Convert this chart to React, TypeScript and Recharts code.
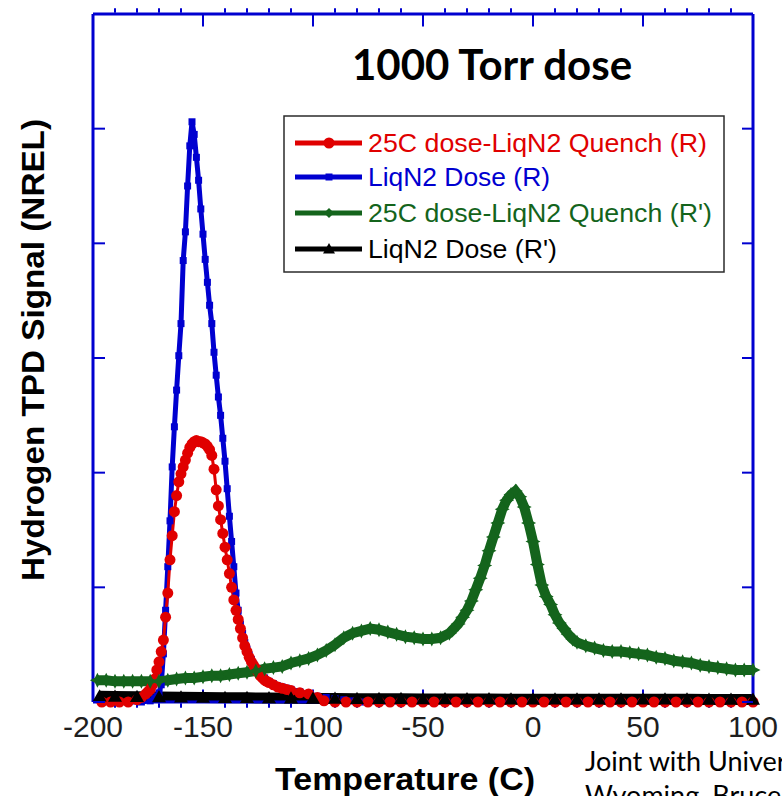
import React from 'react';
import { LineChart, Line, XAxis, YAxis, Legend, ReferenceLine } from 'recharts';

// ---- colours ----
const FRAME = '#0000d0';
const RED = '#e00000';
const BLUE = '#0000d0';
const GREEN = '#14641c';
const BLACK = '#000000';
const SANS = '"Liberation Sans", Arial, Helvetica, sans-serif';

// ---- chart geometry ----
const CHART_W = 782;
const CHART_H = 796;
const MARGIN = { top: 13, right: 28, bottom: 93, left: 92 };
const AXIS_THICKNESS = 1;

// ---- axes ----
const tempTicks = [
  -200, -190, -180, -170, -160, -150, -140, -130, -120, -110, -100, -90, -80, -70, -60, -50,
  -40, -30, -20, -10, 0, 10, 20, 30, 40, 50, 60, 70, 80, 90, 100,
];
const tempLabelTicks = [-200, -150, -100, -50, 0, 50, 100];
const signalTicks = [0, 1, 2, 3, 4, 5, 6];
const SIGNAL_MIN = 0;
const SIGNAL_MAX = 6;

// ---- series names ----
const seriesNames = [
  '25C dose-LiqN2 Quench (R)',
  'LiqN2 Dose (R)',
  "25C dose-LiqN2 Quench (R')",
  "LiqN2 Dose (R')",
];

// ---- 25C dose-LiqN2 Quench (R) ----
const quenchRTemp = [
  -196, -192, -188, -184, -180, -178, -176, -175, -174, -173, -172, -171, -170, -169, -168, -167,
  -166, -165, -164, -163, -162, -161, -160, -159, -158, -157, -156, -155, -154, -153, -152, -151,
  -150, -149, -148, -147, -146, -145, -144, -143, -142, -141, -140, -139, -138, -137, -136, -135,
  -134, -133, -132, -131, -130, -129, -128, -127, -126, -125, -124, -123, -122, -121, -120, -118,
  -116, -114, -112, -110, -106, -102, -98, -95, -90, -85, -80, -75, -70, -65, -60, -55, -50, -45,
  -40, -35, -30, -25, -20, -15, -10, -5, 0, 5, 10, 15, 20, 25, 30, 35, 40, 45, 50, 55, 60, 65, 70,
  75, 80, 85, 90, 95, 100,
];
const quenchRSignal = [
  0, 0, 0, 0, 0.02, 0.04, 0.07, 0.09, 0.11, 0.15, 0.2, 0.28, 0.35, 0.44, 0.54, 0.74,
  0.95, 1.24, 1.45, 1.66, 1.8, 1.92, 1.99, 2.05, 2.11, 2.17, 2.22, 2.25, 2.27, 2.28, 2.27, 2.27,
  2.26, 2.25, 2.23, 2.2, 2.15, 2.03, 1.85, 1.71, 1.59, 1.47, 1.35, 1.24, 1.12, 1.0, 0.89, 0.8,
  0.72, 0.64, 0.56, 0.49, 0.44, 0.39, 0.35, 0.32, 0.29, 0.26, 0.23, 0.21, 0.19, 0.18, 0.17, 0.15,
  0.13, 0.12, 0.11, 0.1, 0.08, 0.07, 0.04, 0.01, 0, 0, 0, 0, 0, 0, 0, 0, 0, 0,
  0, 0, 0, 0, 0, 0, 0, 0, 0, 0, 0, 0, 0, 0, 0, 0, 0, 0, 0, 0, 0, 0, 0,
  0, 0, 0, 0, 0, 0,
];

// ---- LiqN2 Dose (R) ----
const liqRTemp = [
  -196, -190, -184, -178, -174, -172, -171, -170, -169, -168, -167, -166, -165, -164, -163, -162,
  -161, -160, -159, -158, -157, -156, -155, -154, -153, -152, -151, -150, -149, -148, -147, -146,
  -145, -144, -143, -142, -141, -140, -139, -138, -137, -136, -135, -134, -133, -132, -131, -130,
  -129, -128, -127, -126, -125, -124, -122, -120, -118, -116, -114, -112, -110, -106, -102, -98,
  -94, -90, -86, -82, -78, -70, -60, -50, -40, -30, -20, -10, 0, 10, 20, 30, 40, 50, 60, 70, 80,
  90, 100,
];
const liqRSignal = [
  0, 0, 0, 0, 0.01, 0.03, 0.05, 0.08, 0.15, 0.42, 0.8, 1.18, 1.58, 2.05, 2.4, 2.72,
  3.02, 3.3, 3.85, 4.1, 4.5, 4.85, 5.06, 4.95, 4.75, 4.55, 4.3, 4.08, 3.86, 3.66, 3.46, 3.3,
  3.05, 2.85, 2.66, 2.5, 2.3, 2.1, 1.86, 1.62, 1.4, 1.18, 0.95, 0.8, 0.68, 0.6, 0.52, 0.46,
  0.41, 0.37, 0.33, 0.3, 0.27, 0.24, 0.21, 0.18, 0.16, 0.14, 0.13, 0.12, 0.11, 0.09, 0.07, 0.05,
  0.04, 0.03, 0.02, 0.01, 0, 0, 0, 0, 0, 0, 0, 0, 0, 0, 0, 0, 0, 0, 0, 0, 0,
  0, 0,
];

// ---- 25C dose-LiqN2 Quench (R') ----
const quenchPTemp = [
  -198, -194, -190, -186, -182, -178, -174, -170, -166, -162, -158, -154, -150, -146, -142, -138,
  -134, -130, -126, -122, -118, -114, -110, -106, -102, -98, -94, -90, -86, -82, -78, -74, -70,
  -66, -62, -58, -54, -50, -46, -42, -38, -34, -32, -30, -28, -26, -24, -22, -20, -18, -16, -14,
  -12, -10, -8, -6, -4, -2, 0, 2, 4, 6, 8, 10, 12, 14, 16, 18, 20, 24, 28, 32, 36, 40, 44, 48, 52,
  56, 60, 64, 68, 72, 76, 80, 84, 88, 92, 96, 100,
];
const quenchPSignal = [
  0.19, 0.19, 0.18, 0.18, 0.18, 0.18, 0.18, 0.18, 0.19, 0.2, 0.21, 0.21, 0.22, 0.23, 0.23, 0.24,
  0.25, 0.26, 0.27, 0.29, 0.3, 0.31, 0.34, 0.36, 0.38, 0.41, 0.45, 0.5, 0.56, 0.6, 0.62, 0.64, 0.63,
  0.61, 0.59, 0.57, 0.56, 0.55, 0.55, 0.56, 0.6, 0.68, 0.74, 0.8, 0.88, 0.98, 1.08, 1.19, 1.32, 1.44, 1.56, 1.68,
  1.76, 1.81, 1.84, 1.79, 1.7, 1.56, 1.4, 1.2, 1.02, 0.92, 0.85, 0.76, 0.69, 0.64, 0.59, 0.55, 0.52, 0.49, 0.47, 0.45, 0.44, 0.44, 0.43, 0.42, 0.41,
  0.39, 0.38, 0.36, 0.35, 0.34, 0.32, 0.31, 0.3, 0.29, 0.28, 0.28, 0.28,
];

// ---- LiqN2 Dose (R') ----
const liqPTemp = [
  -197, -190, -180, -170, -160, -150, -140, -130, -120, -110, -100, -90, -80, -70, -60, -50,
  -40, -30, -20, -10, 0, 10, 20, 30, 40, 50, 60, 70, 80, 90, 100,
];
const liqPSignal = [
  0.05, 0.048, 0.046, 0.044, 0.042, 0.04, 0.038, 0.036, 0.034, 0.032, 0.031, 0.03, 0.029, 0.028, 0.028, 0.027,
  0.027, 0.026, 0.026, 0.025, 0.025, 0.025, 0.024, 0.024, 0.024, 0.023, 0.023, 0.023, 0.022, 0.022, 0.022,
];

const toRows = (t: number[], v: number[]) => t.map((x, i) => ({ t: x, v: v[i] }));
const quenchR = toRows(quenchRTemp, quenchRSignal);
const liqR = toRows(liqRTemp, liqRSignal);
const quenchP = toRows(quenchPTemp, quenchPSignal);
const liqP = toRows(liqPTemp, liqPSignal);

// ---- markers ----
const circleAt = (cx: number, cy: number, color: string, key?: any) => (
  <circle key={key} cx={cx} cy={cy} r={5.5} fill={color} />
);
const squareAt = (cx: number, cy: number, color: string, key?: any) => (
  <rect key={key} x={cx - 3.5} y={cy - 3.5} width={7} height={7} fill={color} />
);
const starAt = (cx: number, cy: number, color: string, key?: any, s = 7.5) => (
  <polygon
    key={key}
    fill={color}
    points={`${cx},${cy - s} ${cx + 2.5},${cy - 2.5} ${cx + s},${cy} ${cx + 2.5},${cy + 2.5} ${cx},${cy + s} ${cx - 2.5},${cy + 2.5} ${cx - s},${cy} ${cx - 2.5},${cy - 2.5}`}
  />
);
const triangleAt = (cx: number, cy: number, color: string, key?: any, s = 7) => (
  <polygon key={key} fill={color} points={`${cx},${cy - s} ${cx + s},${cy + s * 0.75} ${cx - s},${cy + s * 0.75}`} />
);

const dotOf = (draw: typeof circleAt, color: string) => (p: any) =>
  p.cx == null || p.cy == null ? <g key={p.index} /> : draw(p.cx, p.cy, color, p.index);

// ---- axis ticks ----
const TempLabel = (p: any) => (
  <text x={p.x} y={p.y + 35} textAnchor="middle" fontSize={30} fontFamily={SANS} fill="#1e1e1e">
    {p.payload.value}
  </text>
);
const LeftTick = (p: any) => <line x1={p.x} x2={p.x + 12} y1={p.y} y2={p.y} stroke={FRAME} strokeWidth={2} />;
const RightTick = (p: any) => <line x1={p.x} x2={p.x - 11} y1={p.y} y2={p.y} stroke={FRAME} strokeWidth={2} />;

// tick marks along the top and bottom frame edges, in signal units
const MAJOR_LEN = 0.11;
const MINOR_LEN = 0.05;
const minorTemps = tempTicks.filter((t) => t % 50 !== 0);
const frameTickSegments = [
  ...tempLabelTicks.map((t) => [
    [{ x: t, y: SIGNAL_MAX }, { x: t, y: SIGNAL_MAX - MAJOR_LEN }],
    [{ x: t, y: SIGNAL_MIN }, { x: t, y: SIGNAL_MIN + MAJOR_LEN }],
  ]),
  ...minorTemps.map((t) => [
    [{ x: t, y: SIGNAL_MAX + 0.01 }, { x: t, y: SIGNAL_MAX + MINOR_LEN }],
    [{ x: t, y: SIGNAL_MIN - 0.01 }, { x: t, y: SIGNAL_MIN - MINOR_LEN }],
  ]),
].flat();

// ---- legend ----
const legendColors = [RED, BLUE, GREEN, BLACK];
const legendMarkers = [
  circleAt,
  squareAt,
  (x: number, y: number, c: string) => starAt(x, y, c, undefined, 5),
  (x: number, y: number, c: string) => triangleAt(x, y, c, undefined, 6),
];
const legendRowY = [28, 62, 98, 134];
const legendTextWidth = [339, 182, 344, 189];

const LegendBox = () => (
  <svg width={442} height={158} style={{ display: 'block' }}>
    <rect x={1} y={1} width={440} height={156} fill="#ffffff" stroke="#2b2b2b" strokeWidth={1.5} />
    {seriesNames.map((name, i) => {
      const cy = legendRowY[i];
      const c = legendColors[i];
      return (
        <g key={name}>
          <line x1={12} x2={79} y1={cy} y2={cy} stroke={c} strokeWidth={5} />
          {legendMarkers[i](46, cy, c)}
          <text
            x={85}
            y={cy + 9}
            fill={c}
            fontSize={25}
            fontFamily={SANS}
            textLength={legendTextWidth[i]}
            lengthAdjust="spacingAndGlyphs"
          >
            {name}
          </text>
        </g>
      );
    })}
  </svg>
);

const lineCommon = { xAxisId: 'b', yAxisId: 'l', dataKey: 'v', activeDot: false, isAnimationActive: false } as const;
const frameLine = { stroke: FRAME, strokeWidth: 3 };

export default function App() {
  return (
    <div
      style={{
        position: 'absolute',
        left: 0,
        top: 0,
        width: CHART_W,
        height: CHART_H,
        overflow: 'hidden',
        background: '#ffffff',
      }}
    >
      <LineChart width={CHART_W} height={CHART_H} margin={MARGIN}>
        <XAxis
          xAxisId="b"
          type="number"
          dataKey="t"
          domain={[-200, 100]}
          ticks={tempLabelTicks}
          interval={0}
          height={AXIS_THICKNESS}
          tickSize={0}
          tickMargin={0}
          tickLine={false}
          axisLine={frameLine}
          tick={<TempLabel />}
        />
        <XAxis
          xAxisId="t"
          orientation="top"
          type="number"
          domain={[-200, 100]}
          allowDataOverflow
          height={AXIS_THICKNESS}
          tick={false}
          tickLine={false}
          axisLine={frameLine}
        />
        <YAxis
          yAxisId="l"
          type="number"
          domain={[SIGNAL_MIN, SIGNAL_MAX]}
          ticks={signalTicks}
          interval={0}
          width={AXIS_THICKNESS}
          tickSize={0}
          tickMargin={0}
          tickLine={false}
          axisLine={frameLine}
          tick={<LeftTick />}
        />
        <YAxis
          yAxisId="r"
          orientation="right"
          type="number"
          domain={[SIGNAL_MIN, SIGNAL_MAX]}
          allowDataOverflow
          ticks={signalTicks}
          interval={0}
          width={AXIS_THICKNESS}
          tickSize={0}
          tickMargin={0}
          tickLine={false}
          axisLine={frameLine}
          tick={<RightTick />}
        />
        <Legend
          layout="vertical"
          align="center"
          verticalAlign="middle"
          content={() => <LegendBox />}
          wrapperStyle={{ position: 'absolute', left: 283, top: 115, width: 442, height: 158 }}
        />
        <Line {...lineCommon} data={liqR} name={seriesNames[1]} stroke={BLUE} strokeWidth={5} dot={dotOf(squareAt, BLUE)} />
        <Line {...lineCommon} data={quenchR} name={seriesNames[0]} stroke={RED} strokeWidth={3} dot={dotOf(circleAt, RED)} />
        <Line {...lineCommon} data={quenchP} name={seriesNames[2]} stroke={GREEN} strokeWidth={10} dot={dotOf(starAt, GREEN)} />
        <Line {...lineCommon} data={liqP} name={seriesNames[3]} stroke={BLACK} strokeWidth={11} dot={dotOf(triangleAt, BLACK)} />
        {frameTickSegments.map((seg, i) => (
          <ReferenceLine
            key={`ft-${i}`}
            xAxisId="b"
            yAxisId="l"
            segment={seg as any}
            stroke={FRAME}
            strokeWidth={2}
            ifOverflow="visible"
          />
        ))}
      </LineChart>
      <svg
        width={CHART_W}
        height={CHART_H}
        style={{ position: 'absolute', left: 0, top: 0, pointerEvents: 'none' }}
      >
        <text x={492} y={80} textAnchor="middle" fontSize={42} fontWeight={700} fontFamily="Lato, 'Open Sans', sans-serif" fill="#000">
          1000 Torr dose
        </text>
        <text
          x={405}
          y={790}
          textAnchor="middle"
          fontSize={32}
          fontWeight={700}
          fontFamily={SANS}
          fill="#000"
          textLength={260}
          lengthAdjust="spacingAndGlyphs"
        >
          Temperature (C)
        </text>
        <text
          x={0}
          y={0}
          transform="translate(44 350) rotate(-90)"
          textAnchor="middle"
          fontSize={32}
          fontWeight={700}
          fontFamily={SANS}
          fill="#000"
          textLength={462}
          lengthAdjust="spacingAndGlyphs"
        >
          Hydrogen TPD Signal (NREL)
        </text>
        <text x={585} y={771} fontSize={27} fontFamily="Lato, 'Open Sans', sans-serif" fill="#000">
          Joint with University of
        </text>
        <text x={585} y={805} fontSize={27} fontFamily="Lato, 'Open Sans', sans-serif" fill="#000">
          Wyoming, Bruce
        </text>
      </svg>
    </div>
  );
}
